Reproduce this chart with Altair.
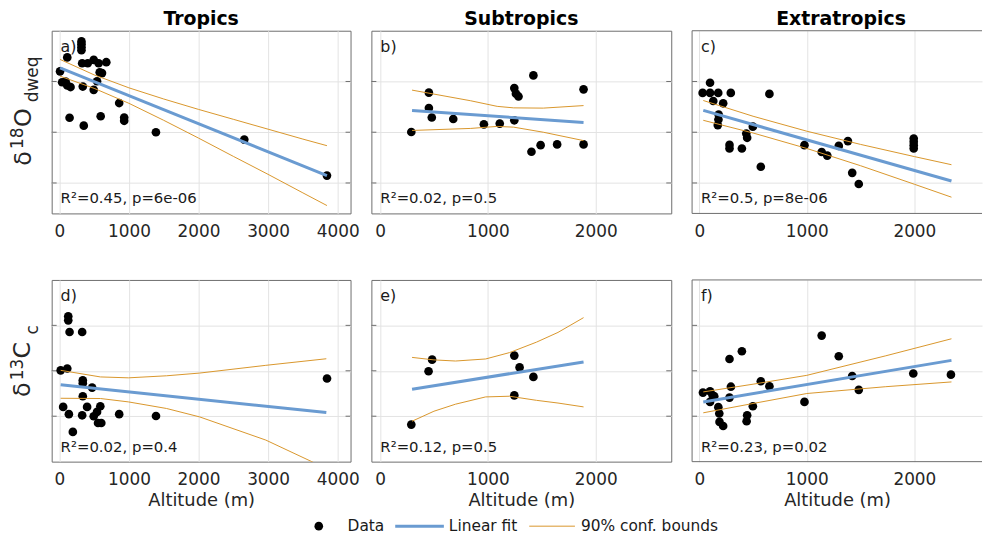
import altair as alt
import pandas as pd

FONT = "DejaVu Sans"
BLUE = "#6a9bd1"
ORANGE = "#d9962b"
INK = "#262626"
FRAME = "#6e6e6e"

# ---------------- data (altitude in m, isotope value in permil) ----------------
# a) Tropics, d18O_dweq
a_alt = [10, 40, 90, 114, 161, 114, 318, 318, 318, 318, 328, 408, 494, 565, 675,
         580, 613, 542, 337, 494, 147, 351, 594, 860, 932, 932, 1388, 2658, 3846]
a_val = [-3.60, -4.03, -4.00, -4.16, -4.22, -3.05, -2.42, -2.53, -2.65, -2.77,
         -3.28, -3.28, -3.15, -3.28, -3.24, -3.64, -3.67, -3.99, -4.20, -4.33,
         -5.43, -5.74, -5.37, -4.85, -5.42, -5.55, -6.00, -6.29, -7.71]
a_fit_x = [10, 3846]
a_fit_y = [-3.46, -7.71]
a_ci_x = [10, 500, 1000, 1500, 2000, 2500, 3000, 3500, 3846]
a_ci_hi = [-3.13, -3.74, -4.25, -4.69, -5.10, -5.49, -5.88, -6.27, -6.53]
a_ci_lo = [-3.79, -4.27, -4.86, -5.53, -6.23, -6.95, -7.66, -8.39, -8.89]

# b) Subtropics, d18O_dweq
b_alt = [290, 453, 453, 480, 679, 963, 1110, 1245, 1245, 1260, 1284, 1422, 1404,
         1489, 1642, 1887, 1887]
b_val = [-5.99, -4.44, -5.05, -5.42, -5.48, -5.69, -5.66, -5.53, -4.26, -4.48,
         -4.59, -3.76, -6.77, -6.51, -6.48, -4.31, -6.48]
b_fit_x = [297, 1887]
b_fit_y = [-5.14, -5.62]
b_ci_x = [297, 841, 1086, 1239, 1514, 1887]
b_ci_hi = [-4.34, -4.76, -4.98, -5.04, -5.05, -4.95]
b_ci_lo = [-5.93, -5.85, -5.77, -5.80, -6.00, -6.33]

# c) Extratropics, d18O_dweq
c_alt = [31, 100, 100, 130, 176, 222, 293, 180, 178, 172, 281, 281, 396, 437, 445,
         498, 572, 652, 978, 1138, 1190, 1297, 1382, 1422, 1483, 1994, 1994, 1994, 1994]
c_val = [-4.45, -4.05, -4.45, -4.77, -4.45, -4.86, -4.45, -5.30, -5.50, -5.72,
         -6.50, -6.64, -6.64, -6.05, -6.22, -5.78, -7.36, -4.49, -6.51, -6.78,
         -6.92, -6.54, -6.35, -7.60, -8.04, -6.25, -6.38, -6.51, -6.64]
c_fit_x = [37, 2345]
c_fit_y = [-5.14, -7.92]
c_ci_x = [37, 500, 1000, 1500, 2000, 2345]
c_ci_hi = [-4.75, -5.37, -5.96, -6.48, -6.96, -7.28]
c_ci_lo = [-5.53, -6.03, -6.64, -7.32, -8.05, -8.56]

# d) Tropics, d13C_c
d_alt = [19, 114, 128, 128, 147, 328, 337, 337, 471, 337, 399, 55, 137, 328, 494,
         542, 589, 556, 603, 860, 1389, 194, 3847]
d_val = [-9.98, -9.90, -7.60, -7.78, -8.29, -8.29, -10.42, -10.55, -10.74, -11.12,
         -11.59, -11.59, -11.91, -11.96, -12.00, -11.81, -11.56, -12.30, -12.30,
         -11.91, -11.99, -12.69, -10.34]
d_fit_x = [19, 3837]
d_fit_y = [-10.61, -11.84]
d_ci_x = [19, 590, 994, 1541, 2016, 2967, 3837]
d_ci_hi = [-9.98, -10.27, -10.31, -10.22, -10.10, -9.76, -9.47]
d_ci_lo = [-11.21, -11.22, -11.37, -11.66, -12.03, -13.05, -14.30]

# e) Subtropics, d13C_c
e_alt = [290, 450, 483, 1245, 1294, 1422, 1245]
e_val = [-12.37, -10.02, -9.51, -9.33, -9.85, -10.27, -11.08]
e_fit_x = [297, 1887]
e_fit_y = [-10.81, -9.61]
e_ci_x = [297, 500, 700, 979, 1200, 1450, 1650, 1887]
e_ci_hi = [-9.41, -9.52, -9.57, -9.48, -9.20, -8.74, -8.31, -7.66]
e_ci_lo = [-12.22, -11.78, -11.47, -11.15, -11.12, -11.30, -11.42, -11.59]

# f) Extratropics, d13C_c
f_alt = [34, 100, 124, 100, 139, 177, 186, 188, 222, 294, 281, 281, 396, 445, 440,
         498, 572, 652, 978, 1138, 1297, 1422, 1483, 1990, 2340]
f_val = [-10.96, -10.90, -11.08, -11.37, -11.12, -11.60, -11.88, -12.25, -12.43,
         -10.70, -11.18, -9.48, -9.14, -11.96, -12.22, -11.56, -10.46, -10.68,
         -11.37, -8.45, -9.36, -10.23, -10.84, -10.12, -10.17]
f_fit_x = [37, 2345]
f_fit_y = [-11.37, -9.54]
f_ci_x = [37, 500, 1000, 1734, 2345]
f_ci_hi = [-10.93, -10.59, -10.20, -9.34, -8.59]
f_ci_lo = [-11.85, -11.44, -11.00, -10.70, -10.49]

stats = ["R²=0.45, p=6e-06", "R²=0.02, p=0.5", "R²=0.5, p=8e-06",
         "R²=0.02, p=0.4", "R²=0.12, p=0.5", "R²=0.23, p=0.02"]
tags = ["a)", "b)", "c)", "d)", "e)", "f)"]
regions = ["Tropics", "Subtropics", "Extratropics"]
legend_labels = ["Data", "Linear fit", "90% conf. bounds"]
xlabel = "Altitude (m)"

xdom_trop = [-110, 4185]
xdom_sub = [-80, 2700]
xdom_ext = [-67, 2629]
xt_trop = [0, 1000, 2000, 3000, 4000]
xt_other = [0, 1000, 2000]
ydom_top = [-9.2, -2.0]
ydom_bot = [-14.0, -6.0]
yt_top = [-8, -6, -4]
yt_bot = [-12, -10, -8]


def one():
    return pd.DataFrame({"k": [0]})


def txt(s, x, y, size, angle=0, color=INK, baseline="alphabetic", weight="normal",
        align="left"):
    kw = dict(align=align, baseline=baseline, font=FONT, fontSize=size,
              color=color, fontWeight=weight)
    if angle:
        kw["angle"] = angle
    return alt.Chart(pd.DataFrame({"t": [s]})).mark_text(**kw).encode(
        x=alt.value(x), y=alt.value(y), text="t:N")


def seg(x1, y1, x2, y2, color=FRAME, width=1, opacity=1):
    return alt.Chart(one()).mark_rule(color=color, strokeWidth=width, opacity=opacity).encode(
        x=alt.value(x1), x2=alt.value(x2), y=alt.value(y1), y2=alt.value(y2))


def panel(ax, av, fx, fy, cx, chi, clo, xdom, xticks, ydom, yticks, w, h, tag,
          stat, title=None, title_x=None, xtitle=None, ypieces=None, legend=False,
          anchors=False, open_right=False):
    pts = pd.DataFrame({"alt": ax, "val": av})
    fit = pd.DataFrame({"alt": fx, "val": fy})
    ci = pd.DataFrame({"alt": cx + cx, "val": chi + clo,
                       "side": ["upper"] * len(cx) + ["lower"] * len(cx)})
    ytk = pd.DataFrame({"val": yticks})
    xenc = alt.X("alt:Q", scale=alt.Scale(domain=xdom, nice=False, zero=False),
                 axis=alt.Axis(values=xticks, title=xtitle, grid=True, format="d"))
    yenc = alt.Y("val:Q", scale=alt.Scale(domain=ydom, nice=False, zero=False),
                 axis=alt.Axis(values=yticks, labels=False, title=None, grid=True))
    layers = [
        alt.Chart(ytk).mark_rule(color=FRAME, strokeWidth=1).encode(
            y=yenc, x=alt.value(0), x2=alt.value(5)),
    ]
    if not open_right:
        layers.append(alt.Chart(ytk).mark_rule(color=FRAME, strokeWidth=1).encode(
            y=yenc, x=alt.value(w - 5), x2=alt.value(w)))
    else:
        layers += [seg(0, 0, w, 0), seg(0, h, w, h), seg(0, 0, 0, h)]
    layers += [
        alt.Chart(pts).mark_circle(size=76, color="black", opacity=1).encode(x=xenc, y=yenc),
        alt.Chart(fit).mark_line(color=BLUE, strokeWidth=3, clip=True).encode(x=xenc, y=yenc),
        alt.Chart(ci).mark_line(color=ORANGE, strokeWidth=1, clip=True).encode(
            x=xenc, y=yenc, detail="side:N"),
        txt(tag, 9, 21, 16, color="#1a1a1a"),
        txt(stat, 9, h - 10, 15, color="#1a1a1a"),
    ]
    if title:
        tx = title_x if title_x is not None else w / 2
        layers.append(txt(title, tx, -6, 19, color="black", weight="bold", align="center"))
    if anchors:
        layers.append(seg(-43, -21, -43, -21, color="white", width=0, opacity=0))
    if ypieces:
        for s, xx, yy, size in ypieces:
            layers.append(txt(s, xx, yy, size, angle=270))
    if legend:
        ly = 248
        layers.append(alt.Chart(pd.DataFrame({"k": [legend_labels[0]]})).mark_circle(
            size=76, color="black", opacity=1).encode(x=alt.value(-53), y=alt.value(ly)))
        layers.append(txt(legend_labels[0], -24, ly, 15.5, color="#1a1a1a", baseline="middle"))
        layers.append(seg(24, ly, 73, ly, color=BLUE, width=3))
        layers.append(txt(legend_labels[1], 78, ly, 15.5, color="#1a1a1a", baseline="middle"))
        layers.append(seg(159, ly, 205, ly, color=ORANGE, width=1))
        layers.append(txt(legend_labels[2], 211, ly, 15.5, color="#1a1a1a", baseline="middle"))
    props = dict(width=w, height=h)
    if open_right:
        props["view"] = alt.ViewBackground(stroke="transparent")
    return alt.layer(*layers).properties(**props)


ytop = [("δ", -21, 136, 24), ("18", -29, 119, 17), ("O", -21, 97, 24), ("dweq", -14, 72, 17)]
ybot = [("δ", -22, 118, 24), ("13", -29, 101, 17), ("C", -22, 79, 24), ("c", -14, 55, 17)]

pa = panel(a_alt, a_val, a_fit_x, a_fit_y, a_ci_x, a_ci_hi, a_ci_lo, xdom_trop, xt_trop,
           ydom_top, yt_top, 301, 184, tags[0], stats[0], title=regions[0], ypieces=ytop,
           anchors=True)
pb = panel(b_alt, b_val, b_fit_x, b_fit_y, b_ci_x, b_ci_hi, b_ci_lo, xdom_sub, xt_other,
           ydom_top, yt_top, 302, 184, tags[1], stats[1], title=regions[1])
pc = panel(c_alt, c_val, c_fit_x, c_fit_y, c_ci_x, c_ci_hi, c_ci_lo, xdom_ext, xt_other,
           ydom_top, yt_top, 292, 184, tags[2], stats[2], title=regions[2], title_x=150,
           open_right=True)
pd_ = panel(d_alt, d_val, d_fit_x, d_fit_y, d_ci_x, d_ci_hi, d_ci_lo, xdom_trop, xt_trop,
            ydom_bot, yt_bot, 301, 183, tags[3], stats[3], xtitle=xlabel, ypieces=ybot)
pe = panel(e_alt, e_val, e_fit_x, e_fit_y, e_ci_x, e_ci_hi, e_ci_lo, xdom_sub, xt_other,
           ydom_bot, yt_bot, 302, 183, tags[4], stats[4], xtitle=xlabel, legend=True)
pf = panel(f_alt, f_val, f_fit_x, f_fit_y, f_ci_x, f_ci_hi, f_ci_lo, xdom_ext, xt_other,
           ydom_bot, yt_bot, 292, 183, tags[5], stats[5], xtitle=xlabel, open_right=True)

chart = alt.concat(pa, pb, pc, pd_, pe, pf, columns=3,
                   spacing={"row": 67, "column": 21}, bounds="flush", align="each").properties(
    padding={"left": 0, "top": -1, "right": 0, "bottom": 0}, background="white"
).configure_axis(
    labelFont=FONT, labelFontSize=17, labelColor=INK, titleFont=FONT, titleFontSize=18,
    titleColor=INK, titleFontWeight="normal", ticks=False, domain=False,
    gridColor="#e3e3e3", gridWidth=1, labelPadding=10, titlePadding=4, labelFlush=False,
).configure_view(stroke=FRAME, strokeWidth=1)

chart.save("out.html", embed_options={"renderer": "svg", "actions": False})
